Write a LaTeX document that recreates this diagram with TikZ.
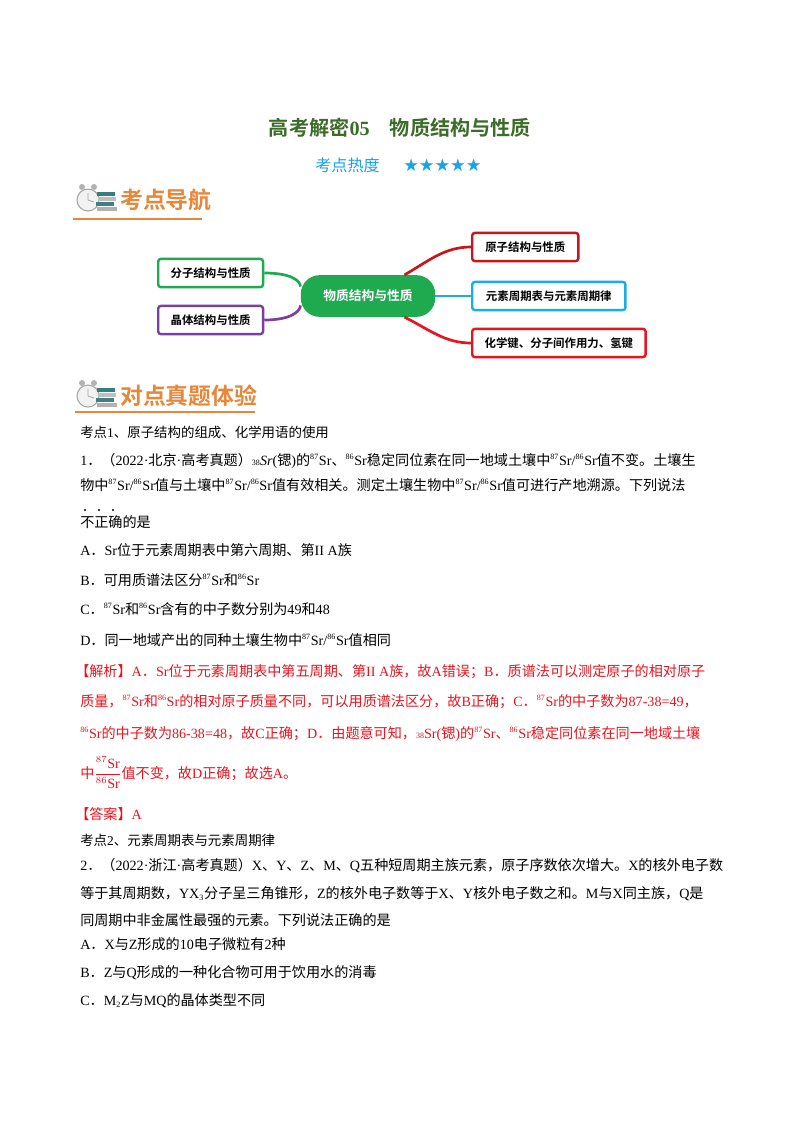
\documentclass[tikz,border=0pt]{standalone}
\usepackage{fontspec}
\setmainfont{Liberation Serif}
\newfontfamily\cjkfont{Noto Sans CJK SC}[BoldFont={Noto Sans CJK SC Bold}]
\newfontfamily\symfont{DejaVu Sans}
\XeTeXinterchartokenstate=1
\newXeTeXintercharclass\cjkclass
\count255="4E00
\loop\ifnum\count255<"9FFF \XeTeXcharclass\count255=\cjkclass \advance\count255 by 1 \repeat
\count255="3000
\loop\ifnum\count255<"303F \XeTeXcharclass\count255=\cjkclass \advance\count255 by 1 \repeat
\count255="FF00
\loop\ifnum\count255<"FFEF \XeTeXcharclass\count255=\cjkclass \advance\count255 by 1 \repeat
\XeTeXinterchartoks 0 \cjkclass={\begingroup\cjkfont}
\XeTeXinterchartoks 4095 \cjkclass={\begingroup\cjkfont}
\XeTeXinterchartoks \cjkclass 0={\endgroup}
\XeTeXinterchartoks \cjkclass 4095={\endgroup}
\newcommand\isot[2]{\textsuperscript{\fontsize{6}{6}\selectfont #1}#2}
\definecolor{tgreen}{HTML}{3D6B2A}
\definecolor{tcyan}{HTML}{1AA3E8}
\definecolor{horange}{HTML}{E8873A}
\definecolor{mgreen}{HTML}{1FAA50}
\definecolor{mpurple}{HTML}{7B3FA0}
\definecolor{mdred}{HTML}{C8161E}
\definecolor{mred}{HTML}{E8141E}
\definecolor{mcyan}{HTML}{1AAEE8}
\begin{document}
\begin{tikzpicture}[x=0.744pt,y=-0.744pt,
  txt/.style={anchor=base west,inner sep=0pt,font=\fontsize{10.5}{12}\selectfont},
  kd/.style={anchor=base west,inner sep=0pt,font=\fontsize{10}{12}\selectfont},
  red/.style={txt,text=mred},
  mbox/.style={draw=#1,line width=1.8pt,rounded corners=2pt,minimum height=21pt,inner xsep=8pt,font=\fontsize{8.5}{10}\selectfont\bfseries,anchor=west},
  link/.style={line width=2pt,draw=#1},
  hdr/.style={anchor=base west,inner sep=0pt,text=horange,font=\fontsize{17}{20}\selectfont\bfseries}]
\useasboundingbox (0,0) rectangle (800,1132);
\fill[white] (0,0) rectangle (800,1132);
% title
\node[anchor=base,inner sep=0pt,text=tgreen,font=\fontsize{15}{18}\selectfont\bfseries] (title) at (400,135) {高考解密05\quad 物质结构与性质};
\node[anchor=base west,inner sep=0pt,text=tcyan,font=\fontsize{12}{14}\selectfont] (heat) at (315,171) {考点热度};
\node[anchor=base west,inner sep=0pt,text=tcyan,font=\symfont\fontsize{13}{14}\selectfont] (stars) at (403,171) {★★★★★};
% icons
\foreach \yy/\nm in {200/one,396/two}{
  \draw[gray!70,line width=0.8pt,fill=gray!10] (88,\yy) circle (11);
  \draw[gray!70,line width=0.6pt] (88,\yy) -- (88,\yy-7) (88,\yy) -- (94,\yy+2);
  \fill[gray!60] (82,\yy-13) circle (3) (94,\yy-13) circle (3);
  \fill[teal!60!gray] (97,\yy-8) rectangle (115,\yy-4);
  \fill[gray!50] (98,\yy-3) rectangle (116,\yy+1);
  \fill[teal!50!gray] (96,\yy+2) rectangle (114,\yy+6);
  \fill[gray!60] (97,\yy+7) rectangle (117,\yy+11);
}
\node[hdr] (h1) at (120,208) {考点导航};
\draw[horange,line width=1.6pt] (73,219) -- (202,219);
\node[hdr] (h2) at (120,404) {对点真题体验};
\draw[horange,line width=1.6pt] (75,412) -- (255,412);
% mind map
\node[fill=mgreen,text=white,rounded corners=14pt,minimum width=100pt,minimum height=31pt,font=\fontsize{9.5}{11}\selectfont\bfseries] (c) at (368,296) {物质结构与性质};
\node[mbox=mgreen,minimum width=78pt] (l1) at (157,273) {分子结构与性质};
\node[mbox=mpurple,minimum width=78pt] (l2) at (157,320) {晶体结构与性质};
\node[mbox=mdred,minimum width=79pt] (r1) at (471,247) {原子结构与性质};
\node[mbox=mcyan,minimum width=114pt] (r2) at (471,296) {元素周期表与元素周期律};
\node[mbox=mred,minimum width=129pt] (r3) at (471,343) {化学键、分子间作用力、氢键};
\draw[link=mgreen] (l1.east) .. controls (290,273) and (300,280) .. (c.172);
\draw[link=mpurple] (l2.east) .. controls (290,320) and (300,312) .. (c.188);
\draw[link=mdred] (c.30) .. controls (430,260) and (445,247) .. (r1.west);
\draw[link=mcyan] (c.east) -- (r2.west);
\draw[link=mred] (c.-30) .. controls (430,330) and (445,343) .. (r3.west);
% question 1
\node[kd] (k1) at (80,437) {考点1、原子结构的组成、化学用语的使用};
\node[txt] (q1a) at (80,465) {1．（2022·北京·高考真题）{\fontsize{6}{6}\selectfont 38}\textit{Sr}(锶)的\isot{87}{Sr}、\isot{86}{Sr}稳定同位素在同一地域土壤中\isot{87}{Sr}/\isot{86}{Sr}值不变。土壤生};
\node[txt] (q1b) at (80,490) {物中\isot{87}{Sr}/\isot{86}{Sr}值与土壤中\isot{87}{Sr}/\isot{86}{Sr}值有效相关。测定土壤生物中\isot{87}{Sr}/\isot{86}{Sr}值可进行产地溯源。下列说法};
\node[txt] (q1c) at (80,527) {不正确的是};
\foreach \xx in {85,99,113}{\fill (\xx,510) circle (1.1);}
\node[txt] (qa) at (80,555) {A．Sr位于元素周期表中第六周期、第II A族};
\node[txt] (qb) at (80,585) {B．可用质谱法区分\isot{87}{Sr}和\isot{86}{Sr}};
\node[txt] (qc) at (80,614) {C．\isot{87}{Sr}和\isot{86}{Sr}含有的中子数分别为49和48};
\node[txt] (qd) at (80,645) {D．同一地域产出的同种土壤生物中\isot{87}{Sr}/\isot{86}{Sr}值相同};
\node[red] (j1) at (75,676) {【解析】A．Sr位于元素周期表中第五周期、第II A族，故A错误；B．质谱法可以测定原子的相对原子};
\node[red] (j2) at (80,706) {质量，\isot{87}{Sr}和\isot{86}{Sr}的相对原子质量不同，可以用质谱法区分，故B正确；C．\isot{87}{Sr}的中子数为87-38=49，};
\node[red] (j3) at (80,738) {\isot{86}{Sr}的中子数为86-38=48，故C正确；D．由题意可知，{\fontsize{6}{6}\selectfont 38}Sr(锶)的\isot{87}{Sr}、\isot{86}{Sr}稳定同位素在同一地域土壤};
\node[red] (j4) at (80,778) {中$\displaystyle\frac{^{87}\mathrm{Sr}}{^{86}\mathrm{Sr}}$值不变，故D正确；故选A。};
\node[red] (ans) at (75,819) {【答案】A};
% question 2
\node[kd] (k2) at (80,845) {考点2、元素周期表与元素周期律};
\node[txt] (q2a) at (80,870) {2．（2022·浙江·高考真题）X、Y、Z、M、Q五种短周期主族元素，原子序数依次增大。X的核外电子数};
\node[txt] (q2b) at (80,898) {等于其周期数，YX\textsubscript{\fontsize{6}{6}\selectfont 3}分子呈三角锥形，Z的核外电子数等于X、Y核外电子数之和。M与X同主族，Q是};
\node[txt] (q2c) at (80,925) {同周期中非金属性最强的元素。下列说法正确的是};
\node[txt] (q2d) at (80,949) {A．X与Z形成的10电子微粒有2种};
\node[txt] (q2e) at (80,977) {B．Z与Q形成的一种化合物可用于饮用水的消毒};
\node[txt] (q2f) at (80,1005) {C．M\textsubscript{\fontsize{6}{6}\selectfont 2}Z与MQ的晶体类型不同};
\end{tikzpicture}
\end{document}
